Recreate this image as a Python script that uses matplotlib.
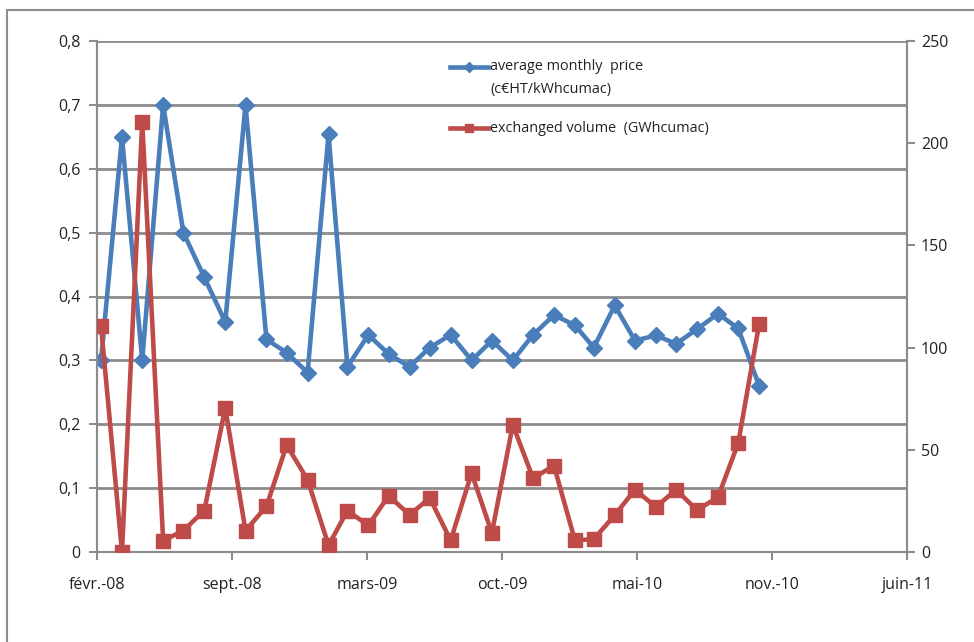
import numpy as np
import matplotlib
matplotlib.use('Agg')
import matplotlib.pyplot as plt
from matplotlib.lines import Line2D

plt.rcParams['font.family'] = ['Open Sans', 'DejaVu Sans']

# monthly points, mars 2008 -> nov. 2010
months = ['2008-03', '2008-04', '2008-05', '2008-06', '2008-07', '2008-08', '2008-09',
          '2008-10', '2008-11', '2008-12', '2009-01', '2009-02', '2009-03', '2009-04',
          '2009-05', '2009-06', '2009-07', '2009-08', '2009-09', '2009-10', '2009-11',
          '2009-12', '2010-01', '2010-02', '2010-03', '2010-04', '2010-05', '2010-06',
          '2010-07', '2010-08', '2010-09', '2010-10', '2010-11']
price = [0.30, 0.65, 0.30, 0.70, 0.50, 0.43, 0.36, 0.70, 0.333, 0.312, 0.281, 0.654,
         0.29, 0.34, 0.31, 0.29, 0.32, 0.34, 0.30, 0.331, 0.30, 0.34, 0.371, 0.355,
         0.32, 0.386, 0.331, 0.339, 0.326, 0.349, 0.373, 0.35, 0.26]
volume = [110.5, 0, 210.5, 5.5, 10.5, 20.3, 70.5, 10.5, 22.3, 52.3, 35.3, 3.3,
          20.2, 13, 27.5, 18.2, 26.4, 5.7, 38.6, 9.3, 62.2, 36.1, 42.2, 5.7,
          6.3, 18, 30.5, 22, 30.5, 20.4, 26.9, 53.3, 111.7]

tick_dates = ['2008-02-24', '2008-09-11', '2009-03-30', '2009-10-16',
              '2010-05-04', '2010-11-20', '2011-06-08']
tick_labels = ['févr.-08', 'sept.-08', 'mars-09', 'oct.-09', 'mai-10', 'nov.-10', 'juin-11']
left_ticks = [0, 0.1, 0.2, 0.3, 0.4, 0.5, 0.6, 0.7, 0.8]
right_ticks = [0, 50, 100, 150, 200, 250]

blue = '#4A7EBB'
red = '#BE4B48'
grey = '#8C8C8C'
txt = '#222222'

x = np.array(months, dtype='datetime64[M]').astype('datetime64[D]')
xt = np.array(tick_dates, dtype='datetime64[D]')

fig = plt.figure(figsize=(9.74, 6.42), dpi=100)
ax = fig.add_axes([97 / 974, 1 - 552 / 642, (907 - 97) / 974, (552 - 41) / 642])
ax2 = ax.twinx()

ax.plot(x, price, color=blue, lw=3.3, marker='D', ms=7.8, zorder=3)
ax2.plot(x, volume, color=red, lw=3.3, marker='s', ms=10, zorder=3)

ax.set_xlim(xt[0], xt[-1])
ax.set_ylim(0, 0.8)
ax2.set_ylim(0, 250)
ax.set_xticks(xt)
ax.set_xticklabels(tick_labels)
ax.set_yticks(left_ticks)
ax.set_yticklabels([('%g' % v).replace('.', ',') for v in left_ticks])
ax2.set_yticks(right_ticks)
ax2.set_yticklabels([str(v) for v in right_ticks])

ax.grid(axis='y', color=grey, lw=2)
ax.set_axisbelow(True)
for a in (ax, ax2):
    a.spines['top'].set_visible(False)
    for s in ('left', 'right', 'bottom'):
        a.spines[s].set_color(grey)
        a.spines[s].set_linewidth(1.5)
    a.tick_params(colors=grey, labelcolor=txt, labelsize=11.5, length=6, width=1.5)
ax.tick_params(axis='y', pad=6)
ax.tick_params(axis='x', pad=12)
ax2.tick_params(axis='y', pad=4)

# legend drawn by hand (no frame, gridline shows through)
def px(xp, yp):
    return xp / 974, 1 - yp / 642

fig.add_artist(Line2D([px(450, 0)[0], px(488, 0)[0]], [px(0, 67)[1]] * 2, color=blue, lw=3.3))
fig.add_artist(Line2D([px(469, 0)[0]], [px(0, 67)[1]], color=blue, marker='D', ms=5))
fig.add_artist(Line2D([px(450, 0)[0], px(488, 0)[0]], [px(0, 128)[1]] * 2, color=red, lw=3.3))
fig.add_artist(Line2D([px(469, 0)[0]], [px(0, 128)[1]], color=red, marker='s', ms=6))
fig.text(*px(490, 67), 'average monthly  price', fontsize=10.4, va='center', color=txt)
fig.text(*px(490, 89), '(c€HT/kWhcumac)', fontsize=10.4, va='center', color=txt)
fig.text(*px(490, 128), 'exchanged volume  (GWhcumac)', fontsize=10.4, va='center', color=txt)

# outer chart-area border (cut at right and bottom)
fig.add_artist(Line2D([px(7, 0)[0], px(7, 0)[0]], [0, px(0, 10)[1]], color=grey, lw=1.5))
fig.add_artist(Line2D([px(7, 0)[0], 1], [px(0, 10)[1]] * 2, color=grey, lw=1.5))

fig.savefig('out.png', dpi=100)
